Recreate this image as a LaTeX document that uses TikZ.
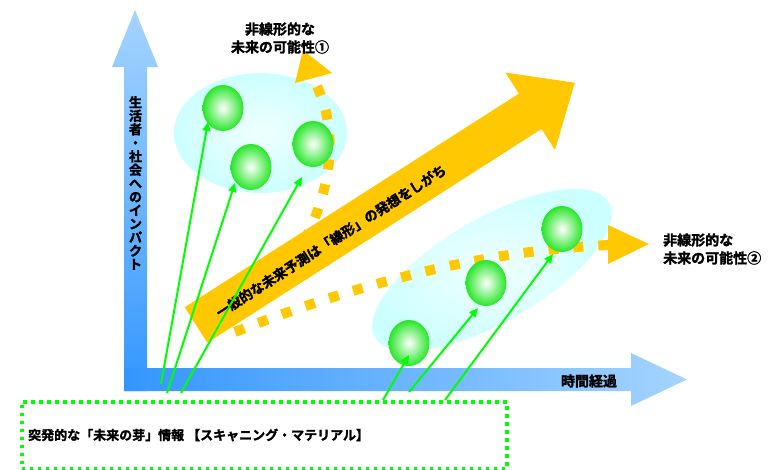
\documentclass[tikz,border=0pt]{standalone}
\usepackage{fontspec}
\newfontfamily\jpb{Noto Sans CJK JP Bold}[RawFeature={embolden=1.8}]
\usetikzlibrary{arrows.meta,shapes.geometric}
\definecolor{orng}{RGB}{255,200,0}
\definecolor{ltblue}{RGB}{165,212,255}
\definecolor{dkblue}{RGB}{51,150,255}
\definecolor{cyanedge}{RGB}{204,255,255}
\definecolor{cyanmid}{RGB}{240,255,255}
\definecolor{ballgreen}{RGB}{40,230,40}
\definecolor{lgreen}{RGB}{0,255,0}
\tikzset{
  ball/.style={ellipse, inner sep=0pt, minimum width=41pt, minimum height=46pt,
    shade, inner color=white, outer color=ballgreen},
  cloud/.style={inner color=cyanmid, outer color=cyanedge},
  orangedots/.style={draw=orng, line width=10pt, dash pattern=on 10pt off 15pt},
  gline/.style={draw=lgreen, line width=2pt, -{Triangle[length=9pt,width=8pt]}},
  jtext/.style={font=\jpb\fontsize{14}{18}\selectfont, inner sep=0pt, text=black},
}
\begin{document}
\begin{tikzpicture}[x=1pt,y=-1pt]
\useasboundingbox (0,0) rectangle (771,469);
% axes
\shade[top color=ltblue, bottom color=dkblue]
  (124,391) -- (124,67) -- (112,67) -- (135,10) -- (158,67) -- (147,67) -- (147,391) -- cycle;
\shade[left color=dkblue, right color=ltblue]
  (124,368) -- (631,368) -- (631,353) -- (687,379.5) -- (631,406) -- (631,391) -- (124,391) -- cycle;
% clouds
\shade[cloud] (260.5,133) ellipse [x radius=86.5pt, y radius=60pt];
\shade[cloud, rotate around={30:(492,270)}] (492,270) ellipse [x radius=135pt, y radius=52pt];
% dotted arrow 1
\coordinate (d1s) at (292,262);
\coordinate (d1e) at (313,79);
\draw[orangedots] (d1s) .. controls (335,195) and (340,125) .. (d1e);
\fill[orng] (303,50) -- (332,73) -- (295,83) -- cycle;
% big arrow
\begin{scope}[shift={(196,325)}, rotate=32.6]
\fill[orng] (0,-21) -- (396.7,-21) -- (396.7,-46) -- (449.7,0) -- (396.7,46) -- (396.7,21) -- (0,21) -- cycle;
\end{scope}
\node[jtext, font=\jpb\fontsize{13.5}{16}\selectfont, rotate=32.6] (bigtext) at (331,241) {一般的な未来予測は「線形」の発想をしがち};
% dotted arrow 2
\coordinate (d2s) at (235,332);
\coordinate (d2e) at (609,245);
\draw[orangedots] (d2s) .. controls (380,275) and (500,250) .. (d2e);
\fill[orng] (608,225) -- (649,244) -- (608,264) -- cycle;
% balls
\node[ball] (b1) at (223,108) {};
\node[ball] (b2) at (251,167) {};
\node[ball] (b3) at (313,144) {};
\node[ball] (bA) at (409,343) {};
\node[ball] (bB) at (486,283) {};
\node[ball] (bC) at (562,229) {};
% dotted box
\node[draw=lgreen, line width=3.5pt, dash pattern=on 3.5pt off 4.5pt, anchor=north west,
  minimum width=485pt, minimum height=67pt, inner sep=0pt] (box) at (20,400) {};
\node[jtext, anchor=west, font=\jpb\fontsize{13}{16}\selectfont] (boxtext) at (28,435) {突発的な「未来の芽」情報 【スキャニング・マテリアル】};
% green arrows
\coordinate (s1) at (161,384); \coordinate (e1) at (208,122);
\coordinate (s2) at (167,393); \coordinate (e2) at (235,183);
\coordinate (s3) at (181,393); \coordinate (e3) at (302,177);
\coordinate (sA) at (383,400); \coordinate (eA) at (409,355);
\coordinate (sB) at (409,392); \coordinate (eB) at (478,308);
\coordinate (sC) at (445,400); \coordinate (eC) at (553,254);
\draw[gline] (s1) -- (e1);
\draw[gline] (s2) -- (e2);
\draw[gline] (s3) -- (e3);
\draw[gline] (sA) -- (eA);
\draw[gline] (sB) -- (eB);
\draw[gline] (sC) -- (eC);
% labels
\node[jtext, align=center] (lab1) at (280,38) {非線形的な\\未来の可能性①};
\node[jtext, align=left, anchor=west] (lab2) at (663,249) {非線形的な\\未来の可能性②};
\node[jtext] (timelab) at (589,381) {時間経過};
\node[jtext, align=center, font=\jpb\fontsize{13}{13.5}\selectfont] (vlab) at (135.5,183)
  {生\\活\\者\\・\\社\\会\\へ\\の\\イ\\ン\\パ\\ク\\ト};
\end{tikzpicture}
\end{document}
